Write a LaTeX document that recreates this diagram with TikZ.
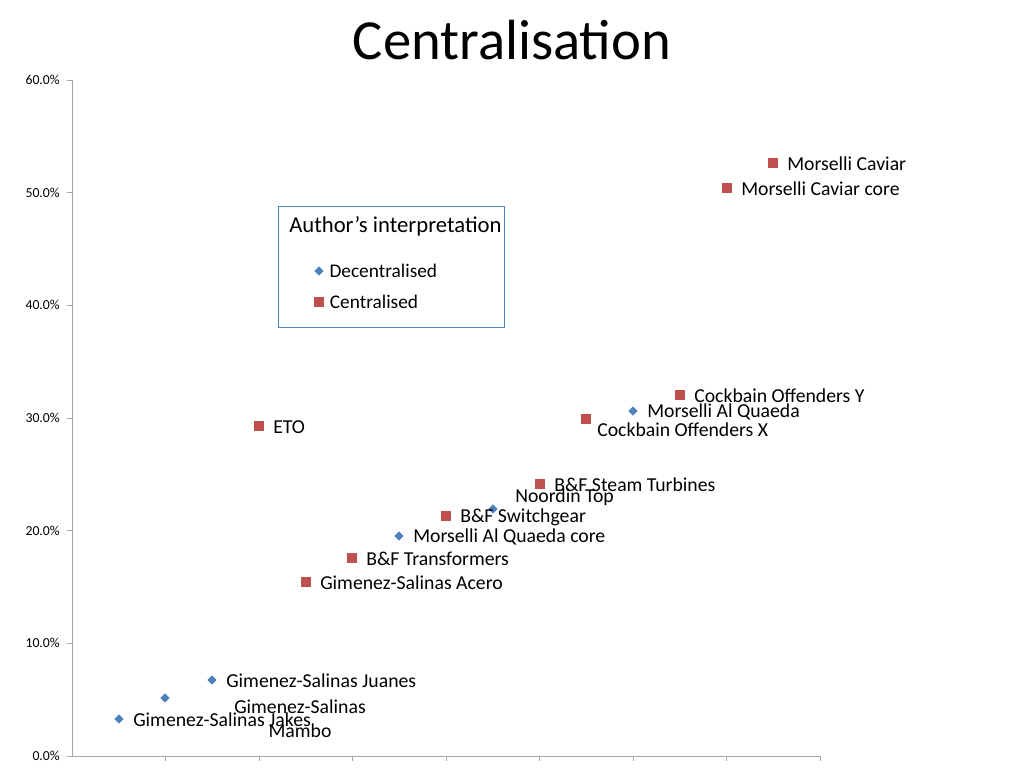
\documentclass[tikz,border=0pt]{standalone}
\usepackage{fontspec}
\setmainfont{Carlito}
\usetikzlibrary{shapes.geometric,positioning}
\definecolor{dblue}{RGB}{79,129,189}
\definecolor{dred}{RGB}{192,80,77}
\tikzset{
  dec/.style={diamond,fill=dblue,inner sep=0pt,minimum size=7pt},
  cen/.style={rectangle,fill=dred,inner sep=0pt,minimum size=7.5pt},
  lab/.style={anchor=west,font=\fontsize{14.8}{18}\selectfont,inner sep=0pt},
  ylab/.style={anchor=east,font=\fontsize{10.3}{11}\selectfont,inner sep=0pt}
}
\begin{document}
\begin{tikzpicture}[x=0.75pt,y=-0.75pt]
   \useasboundingbox (0,0) rectangle (1024,768);
   \node (title) at (512,40) {\fontsize{42.5}{46}\selectfont Centralisation};
   % axes
   \draw[gray!70] (72,80) -- (72,756) -- (820,756);
   \foreach \i/\t in {0/0.0\%,1/10.0\%,2/20.0\%,3/30.0\%,4/40.0\%,5/50.0\%,6/60.0\%} {
     \draw[gray!70] (67,756-112.67*\i) -- (72,756-112.67*\i);
     \node[ylab] at (60,756-112.67*\i) {\t};
   }
   \foreach \i in {1,...,8}
     \draw[gray!70] (72+93.5*\i,756) -- (72+93.5*\i,761);
   % legend
   \draw[dblue] (278,206) rectangle (504,327);
   \node[lab] (lt) at (289,226) {\fontsize{17}{20}\selectfont Author’s interpretation};
   \node[dec] (ld) at (319,271) {};
   \node[lab,right=4pt of ld] {\fontsize{14.5}{16}\selectfont Decentralised};
   \node[cen] (lc) at (319,302) {};
   \node[lab,right=4pt of lc] {\fontsize{14.5}{16}\selectfont Centralised};
   % decentralised
   \node[dec] (maq) at (633,411) {};
   \node[dec] (nt) at (493,509) {};
   \node[dec] (maqc) at (399,536) {};
   \node[dec] (gsju) at (212,680) {};
   \node[dec] (gsm) at (165,698) {};
   \node[dec] (gsja) at (119,719) {};
   % centralised
   \node[cen] (mc) at (773,163) {};
   \node[cen] (mcc) at (727,188) {};
   \node[cen] (cy) at (680,395) {};
   \node[cen] (cx) at (586,419) {};
   \node[cen] (eto) at (259,426) {};
   \node[cen] (bst) at (540,484) {};
   \node[cen] (bsw) at (446,516) {};
   \node[cen] (btr) at (352,558) {};
   \node[cen] (gsa) at (306,582) {};
   % labels
   \node[lab] at (787,164) {Morselli Caviar};
   \node[lab] at (741,189) {Morselli Caviar core};
   \node[lab] at (694,396) {Cockbain Offenders Y};
   \node[lab] at (647,412) {Morselli Al Quaeda};
   \node[lab] at (597,430) {Cockbain Offenders X};
   \node[lab] at (273,427) {ETO};
   \node[lab] at (554,485) {B\&F Steam Turbines};
   \node[lab] at (515,497) {Noordin Top};
   \node[lab] at (460,517) {B\&F Switchgear};
   \node[lab] at (413,537) {Morselli Al Quaeda core};
   \node[lab] at (366,559) {B\&F  Transformers};
   \node[lab] at (320,583) {Gimenez-Salinas Acero};
   \node[lab] at (226,681) {Gimenez-Salinas Juanes};
   \node[lab,anchor=center,align=center,font=\fontsize{14.8}{18}\selectfont] at (300,719) {Gimenez-Salinas\\Mambo};
   \node[lab] at (133,720) {Gimenez-Salinas Jakes};
\end{tikzpicture}
\end{document}
